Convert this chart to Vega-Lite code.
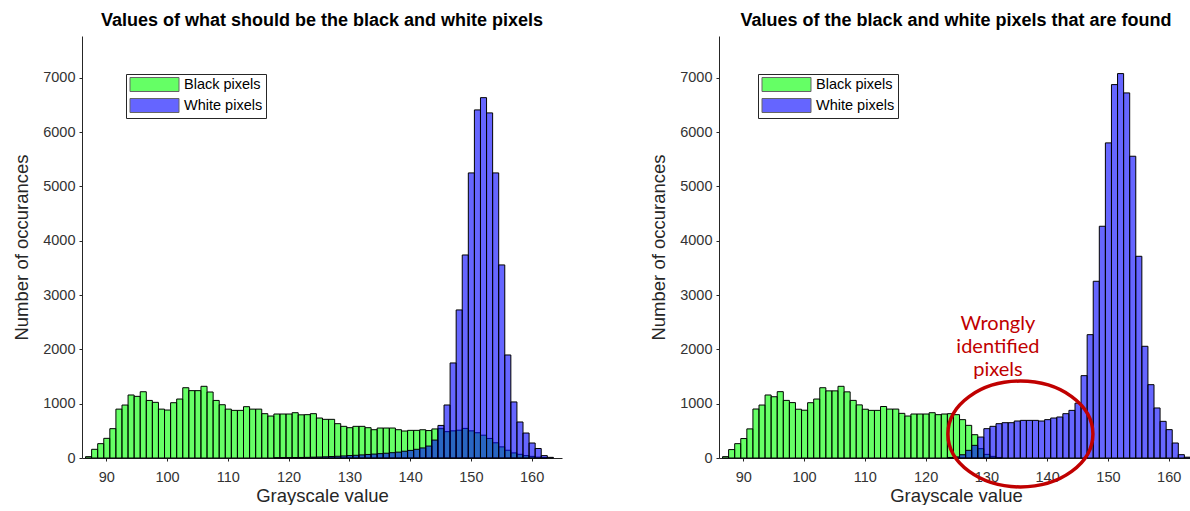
{
  "$schema": "https://vega.github.io/schema/vega-lite/v6.json",
  "padding": {"left": 12, "top": 12, "right": 0, "bottom": 0},
  "background": "white",
  "config": {
    "view": {"stroke": null},
    "axis": {"domainColor": "#262626", "tickColor": "#262626", "labelColor": "#333333", "titleColor": "#262626", "labelFont": "Liberation Sans", "titleFont": "Liberation Sans", "labelFontSize": 14.5, "titleFontSize": 18.5, "titleFontWeight": "normal", "grid": false, "tickSize": 3, "format": "d"},
    "axisY": {"titlePadding": 11, "labelPadding": 4},
    "axisX": {"titlePadding": 3, "labelPadding": 9},
    "title": {"font": "Liberation Sans", "fontSize": 18, "fontWeight": "bold", "color": "#000", "offset": 6}
  },
  "datasets": {
    "left": [
      {"lo": 86.5, "n": 25, "s": "Black pixels"}, {"lo": 87.5, "n": 160, "s": "Black pixels"}, {"lo": 88.5, "n": 264, "s": "Black pixels"}, {"lo": 89.5, "n": 362, "s": "Black pixels"}, {"lo": 90.5, "n": 540, "s": "Black pixels"}, {"lo": 91.5, "n": 900, "s": "Black pixels"}, {"lo": 92.5, "n": 975, "s": "Black pixels"}, {"lo": 93.5, "n": 1160, "s": "Black pixels"}, {"lo": 94.5, "n": 1135, "s": "Black pixels"}, {"lo": 95.5, "n": 1220, "s": "Black pixels"}, {"lo": 96.5, "n": 1060, "s": "Black pixels"}, {"lo": 97.5, "n": 1025, "s": "Black pixels"}, {"lo": 98.5, "n": 900, "s": "Black pixels"}, {"lo": 99.5, "n": 883, "s": "Black pixels"}, {"lo": 100.5, "n": 1018, "s": "Black pixels"}, {"lo": 101.5, "n": 1086, "s": "Black pixels"}, {"lo": 102.5, "n": 1294, "s": "Black pixels"}, {"lo": 103.5, "n": 1240, "s": "Black pixels"}, {"lo": 104.5, "n": 1240, "s": "Black pixels"}, {"lo": 105.5, "n": 1320, "s": "Black pixels"}, {"lo": 106.5, "n": 1215, "s": "Black pixels"}, {"lo": 107.5, "n": 1060, "s": "Black pixels"}, {"lo": 108.5, "n": 981, "s": "Black pixels"}, {"lo": 109.5, "n": 900, "s": "Black pixels"}, {"lo": 110.5, "n": 877, "s": "Black pixels"}, {"lo": 111.5, "n": 877, "s": "Black pixels"}, {"lo": 112.5, "n": 945, "s": "Black pixels"}, {"lo": 113.5, "n": 900, "s": "Black pixels"}, {"lo": 114.5, "n": 900, "s": "Black pixels"}, {"lo": 115.5, "n": 816, "s": "Black pixels"}, {"lo": 116.5, "n": 773, "s": "Black pixels"}, {"lo": 117.5, "n": 810, "s": "Black pixels"}, {"lo": 118.5, "n": 810, "s": "Black pixels"}, {"lo": 119.5, "n": 810, "s": "Black pixels"}, {"lo": 120.5, "n": 834, "s": "Black pixels"}, {"lo": 121.5, "n": 795, "s": "Black pixels"}, {"lo": 122.5, "n": 798, "s": "Black pixels"}, {"lo": 123.5, "n": 816, "s": "Black pixels"}, {"lo": 124.5, "n": 736, "s": "Black pixels"}, {"lo": 125.5, "n": 712, "s": "Black pixels"}, {"lo": 126.5, "n": 712, "s": "Black pixels"}, {"lo": 127.5, "n": 632, "s": "Black pixels"}, {"lo": 128.5, "n": 583, "s": "Black pixels"}, {"lo": 129.5, "n": 558, "s": "Black pixels"}, {"lo": 130.5, "n": 583, "s": "Black pixels"}, {"lo": 131.5, "n": 583, "s": "Black pixels"}, {"lo": 132.5, "n": 558, "s": "Black pixels"}, {"lo": 133.5, "n": 521, "s": "Black pixels"}, {"lo": 134.5, "n": 552, "s": "Black pixels"}, {"lo": 135.5, "n": 552, "s": "Black pixels"}, {"lo": 136.5, "n": 552, "s": "Black pixels"}, {"lo": 137.5, "n": 521, "s": "Black pixels"}, {"lo": 138.5, "n": 497, "s": "Black pixels"}, {"lo": 139.5, "n": 509, "s": "Black pixels"}, {"lo": 140.5, "n": 509, "s": "Black pixels"}, {"lo": 141.5, "n": 520, "s": "Black pixels"}, {"lo": 142.5, "n": 505, "s": "Black pixels"}, {"lo": 143.5, "n": 535, "s": "Black pixels"}, {"lo": 144.5, "n": 540, "s": "Black pixels"}, {"lo": 145.5, "n": 485, "s": "Black pixels"}, {"lo": 146.5, "n": 500, "s": "Black pixels"}, {"lo": 147.5, "n": 512, "s": "Black pixels"}, {"lo": 148.5, "n": 545, "s": "Black pixels"}, {"lo": 149.5, "n": 500, "s": "Black pixels"}, {"lo": 150.5, "n": 465, "s": "Black pixels"}, {"lo": 151.5, "n": 420, "s": "Black pixels"}, {"lo": 152.5, "n": 360, "s": "Black pixels"}, {"lo": 153.5, "n": 280, "s": "Black pixels"}, {"lo": 154.5, "n": 205, "s": "Black pixels"}, {"lo": 155.5, "n": 143, "s": "Black pixels"}, {"lo": 156.5, "n": 94, "s": "Black pixels"}, {"lo": 157.5, "n": 68, "s": "Black pixels"}, {"lo": 158.5, "n": 44, "s": "Black pixels"}, {"lo": 159.5, "n": 30, "s": "Black pixels"}, {"lo": 160.5, "n": 15, "s": "Black pixels"}, {"lo": 161.5, "n": 5, "s": "Black pixels"},
      {"lo": 117.5, "n": 3, "s": "White pixels"}, {"lo": 118.5, "n": 5, "s": "White pixels"}, {"lo": 119.5, "n": 6, "s": "White pixels"}, {"lo": 120.5, "n": 8, "s": "White pixels"}, {"lo": 121.5, "n": 10, "s": "White pixels"}, {"lo": 122.5, "n": 12, "s": "White pixels"}, {"lo": 123.5, "n": 15, "s": "White pixels"}, {"lo": 124.5, "n": 18, "s": "White pixels"}, {"lo": 125.5, "n": 22, "s": "White pixels"}, {"lo": 126.5, "n": 27, "s": "White pixels"}, {"lo": 127.5, "n": 32, "s": "White pixels"}, {"lo": 128.5, "n": 38, "s": "White pixels"}, {"lo": 129.5, "n": 45, "s": "White pixels"}, {"lo": 130.5, "n": 50, "s": "White pixels"}, {"lo": 131.5, "n": 57, "s": "White pixels"}, {"lo": 132.5, "n": 65, "s": "White pixels"}, {"lo": 133.5, "n": 72, "s": "White pixels"}, {"lo": 134.5, "n": 80, "s": "White pixels"}, {"lo": 135.5, "n": 88, "s": "White pixels"}, {"lo": 136.5, "n": 98, "s": "White pixels"}, {"lo": 137.5, "n": 108, "s": "White pixels"}, {"lo": 138.5, "n": 125, "s": "White pixels"}, {"lo": 139.5, "n": 140, "s": "White pixels"}, {"lo": 140.5, "n": 160, "s": "White pixels"}, {"lo": 141.5, "n": 185, "s": "White pixels"}, {"lo": 142.5, "n": 220, "s": "White pixels"}, {"lo": 143.5, "n": 330, "s": "White pixels"}, {"lo": 144.5, "n": 600, "s": "White pixels"}, {"lo": 145.5, "n": 976, "s": "White pixels"}, {"lo": 146.5, "n": 1750, "s": "White pixels"}, {"lo": 147.5, "n": 2726, "s": "White pixels"}, {"lo": 148.5, "n": 3738, "s": "White pixels"}, {"lo": 149.5, "n": 5249, "s": "White pixels"}, {"lo": 150.5, "n": 6409, "s": "White pixels"}, {"lo": 151.5, "n": 6635, "s": "White pixels"}, {"lo": 152.5, "n": 6354, "s": "White pixels"}, {"lo": 153.5, "n": 5249, "s": "White pixels"}, {"lo": 154.5, "n": 3555, "s": "White pixels"}, {"lo": 155.5, "n": 1897, "s": "White pixels"}, {"lo": 156.5, "n": 1032, "s": "White pixels"}, {"lo": 157.5, "n": 663, "s": "White pixels"}, {"lo": 158.5, "n": 460, "s": "White pixels"}, {"lo": 159.5, "n": 276, "s": "White pixels"}, {"lo": 160.5, "n": 175, "s": "White pixels"}, {"lo": 161.5, "n": 44, "s": "White pixels"}, {"lo": 162.5, "n": 12, "s": "White pixels"}
    ],
    "right": [
      {"lo": 86.5, "n": 25, "s": "Black pixels"}, {"lo": 87.5, "n": 155, "s": "Black pixels"}, {"lo": 88.5, "n": 264, "s": "Black pixels"}, {"lo": 89.5, "n": 358, "s": "Black pixels"}, {"lo": 90.5, "n": 536, "s": "Black pixels"}, {"lo": 91.5, "n": 902, "s": "Black pixels"}, {"lo": 92.5, "n": 975, "s": "Black pixels"}, {"lo": 93.5, "n": 1160, "s": "Black pixels"}, {"lo": 94.5, "n": 1128, "s": "Black pixels"}, {"lo": 95.5, "n": 1221, "s": "Black pixels"}, {"lo": 96.5, "n": 1061, "s": "Black pixels"}, {"lo": 97.5, "n": 1020, "s": "Black pixels"}, {"lo": 98.5, "n": 898, "s": "Black pixels"}, {"lo": 99.5, "n": 880, "s": "Black pixels"}, {"lo": 100.5, "n": 1018, "s": "Black pixels"}, {"lo": 101.5, "n": 1086, "s": "Black pixels"}, {"lo": 102.5, "n": 1294, "s": "Black pixels"}, {"lo": 103.5, "n": 1236, "s": "Black pixels"}, {"lo": 104.5, "n": 1236, "s": "Black pixels"}, {"lo": 105.5, "n": 1320, "s": "Black pixels"}, {"lo": 106.5, "n": 1218, "s": "Black pixels"}, {"lo": 107.5, "n": 1061, "s": "Black pixels"}, {"lo": 108.5, "n": 978, "s": "Black pixels"}, {"lo": 109.5, "n": 898, "s": "Black pixels"}, {"lo": 110.5, "n": 877, "s": "Black pixels"}, {"lo": 111.5, "n": 877, "s": "Black pixels"}, {"lo": 112.5, "n": 948, "s": "Black pixels"}, {"lo": 113.5, "n": 901, "s": "Black pixels"}, {"lo": 114.5, "n": 901, "s": "Black pixels"}, {"lo": 115.5, "n": 822, "s": "Black pixels"}, {"lo": 116.5, "n": 773, "s": "Black pixels"}, {"lo": 117.5, "n": 810, "s": "Black pixels"}, {"lo": 118.5, "n": 810, "s": "Black pixels"}, {"lo": 119.5, "n": 810, "s": "Black pixels"}, {"lo": 120.5, "n": 834, "s": "Black pixels"}, {"lo": 121.5, "n": 798, "s": "Black pixels"}, {"lo": 122.5, "n": 810, "s": "Black pixels"}, {"lo": 123.5, "n": 816, "s": "Black pixels"}, {"lo": 124.5, "n": 798, "s": "Black pixels"}, {"lo": 125.5, "n": 706, "s": "Black pixels"}, {"lo": 126.5, "n": 601, "s": "Black pixels"}, {"lo": 127.5, "n": 429, "s": "Black pixels"}, {"lo": 128.5, "n": 172, "s": "Black pixels"}, {"lo": 129.5, "n": 67, "s": "Black pixels"}, {"lo": 130.5, "n": 30, "s": "Black pixels"}, {"lo": 131.5, "n": 10, "s": "Black pixels"},
      {"lo": 123.5, "n": 10, "s": "White pixels"}, {"lo": 124.5, "n": 20, "s": "White pixels"}, {"lo": 125.5, "n": 60, "s": "White pixels"}, {"lo": 126.5, "n": 141, "s": "White pixels"}, {"lo": 127.5, "n": 233, "s": "White pixels"}, {"lo": 128.5, "n": 386, "s": "White pixels"}, {"lo": 129.5, "n": 540, "s": "White pixels"}, {"lo": 130.5, "n": 583, "s": "White pixels"}, {"lo": 131.5, "n": 632, "s": "White pixels"}, {"lo": 132.5, "n": 650, "s": "White pixels"}, {"lo": 133.5, "n": 650, "s": "White pixels"}, {"lo": 134.5, "n": 681, "s": "White pixels"}, {"lo": 135.5, "n": 693, "s": "White pixels"}, {"lo": 136.5, "n": 693, "s": "White pixels"}, {"lo": 137.5, "n": 693, "s": "White pixels"}, {"lo": 138.5, "n": 681, "s": "White pixels"}, {"lo": 139.5, "n": 706, "s": "White pixels"}, {"lo": 140.5, "n": 736, "s": "White pixels"}, {"lo": 141.5, "n": 755, "s": "White pixels"}, {"lo": 142.5, "n": 816, "s": "White pixels"}, {"lo": 143.5, "n": 877, "s": "White pixels"}, {"lo": 144.5, "n": 1010, "s": "White pixels"}, {"lo": 145.5, "n": 1516, "s": "White pixels"}, {"lo": 146.5, "n": 2271, "s": "White pixels"}, {"lo": 147.5, "n": 3254, "s": "White pixels"}, {"lo": 148.5, "n": 4267, "s": "White pixels"}, {"lo": 149.5, "n": 5802, "s": "White pixels"}, {"lo": 150.5, "n": 6875, "s": "White pixels"}, {"lo": 151.5, "n": 7078, "s": "White pixels"}, {"lo": 152.5, "n": 6722, "s": "White pixels"}, {"lo": 153.5, "n": 5556, "s": "White pixels"}, {"lo": 154.5, "n": 3714, "s": "White pixels"}, {"lo": 155.5, "n": 2057, "s": "White pixels"}, {"lo": 156.5, "n": 1350, "s": "White pixels"}, {"lo": 157.5, "n": 921, "s": "White pixels"}, {"lo": 158.5, "n": 675, "s": "White pixels"}, {"lo": 159.5, "n": 522, "s": "White pixels"}, {"lo": 160.5, "n": 276, "s": "White pixels"}, {"lo": 161.5, "n": 61, "s": "White pixels"}, {"lo": 162.5, "n": 15, "s": "White pixels"}
    ],
    "note": [{"lo": 131.9, "n": 2650, "label": "Wrongly\nidentified\npixels"}],
    "ring": [{"lo": 135.6, "n": 442}]
  },
  "spacing": 87,
  "resolve": {"legend": {"color": "independent"}},
  "hconcat": [
    {
      "width": 480,
      "height": 422,
      "title": "Values of what should be the black and white pixels",
      "data": {"name": "left"},
      "mark": {"type": "bar", "fillOpacity": 0.6, "stroke": "#000", "strokeWidth": 1, "binSpacing": 0},
      "encoding": {
        "x": {"field": "lo", "type": "quantitative", "bin": {"binned": true, "step": 1}, "scale": {"domain": [86, 165], "nice": false, "zero": false}, "axis": {"values": [90, 100, 110, 120, 130, 140, 150, 160], "title": "Grayscale value"}},
        "y": {"field": "n", "type": "quantitative", "stack": null, "scale": {"domain": [0, 7770], "nice": false}, "axis": {"values": [0, 1000, 2000, 3000, 4000, 5000, 6000, 7000], "title": "Number of occurances"}},
        "color": {"field": "s", "type": "nominal", "scale": {"domain": ["Black pixels", "White pixels"], "range": ["#00ff00", "#0000ff"]},
          "legend": {"orient": "none", "legendX": 44, "legendY": 38, "title": null, "strokeColor": "#262626", "fillColor": "white", "padding": 3, "symbolType": "M-3.5,-1H3.5V1H-3.5Z", "symbolSize": 196, "symbolStrokeColor": "#000", "symbolStrokeWidth": 1, "symbolOpacity": 0.6, "symbolOffset": 18, "labelOffset": 22, "labelFont": "Liberation Sans", "labelFontSize": 14.5, "labelColor": "#000", "rowPadding": 2}}
      }
    },
    {
      "width": 474,
      "height": 422,
      "title": "Values of the black and white pixels that are found",
      "layer": [
        {
          "data": {"name": "right"},
          "mark": {"type": "bar", "fillOpacity": 0.6, "stroke": "#000", "strokeWidth": 1, "binSpacing": 0},
          "encoding": {
            "x": {"field": "lo", "type": "quantitative", "bin": {"binned": true, "step": 1}, "scale": {"domain": [86, 164], "nice": false, "zero": false}, "axis": {"values": [90, 100, 110, 120, 130, 140, 150, 160], "title": "Grayscale value"}},
            "y": {"field": "n", "type": "quantitative", "stack": null, "scale": {"domain": [0, 7770], "nice": false}, "axis": {"values": [0, 1000, 2000, 3000, 4000, 5000, 6000, 7000], "title": "Number of occurances"}},
            "color": {"field": "s", "type": "nominal", "scale": {"domain": ["Black pixels", "White pixels"], "range": ["#00ff00", "#0000ff"]},
              "legend": {"orient": "none", "legendX": 39, "legendY": 38, "title": null, "strokeColor": "#262626", "fillColor": "white", "padding": 3, "symbolType": "M-3.5,-1H3.5V1H-3.5Z", "symbolSize": 196, "symbolStrokeColor": "#000", "symbolStrokeWidth": 1, "symbolOpacity": 0.6, "symbolOffset": 18, "labelOffset": 22, "labelFont": "Liberation Sans", "labelFontSize": 14.5, "labelColor": "#000", "rowPadding": 2}}
          }
        },
        {
          "data": {"name": "note"},
          "mark": {"type": "text", "align": "center", "baseline": "top", "font": "Lato", "fontSize": 20, "color": "#c00000", "lineBreak": "\n", "lineHeight": 23},
          "encoding": {
            "x": {"field": "lo", "type": "quantitative"},
            "y": {"field": "n", "type": "quantitative"},
            "text": {"field": "label"}
          }
        },
        {
          "data": {"name": "ring"},
          "mark": {"type": "point", "shape": "M-1,0A1,0.73,0,1,1,1,0A1,0.73,0,1,1,-1,0Z", "size": 21025, "filled": false, "stroke": "#c00000", "strokeWidth": 3.5, "opacity": 1},
          "encoding": {
            "x": {"field": "lo", "type": "quantitative"},
            "y": {"field": "n", "type": "quantitative"}
          }
        }
      ]
    }
  ]
}
